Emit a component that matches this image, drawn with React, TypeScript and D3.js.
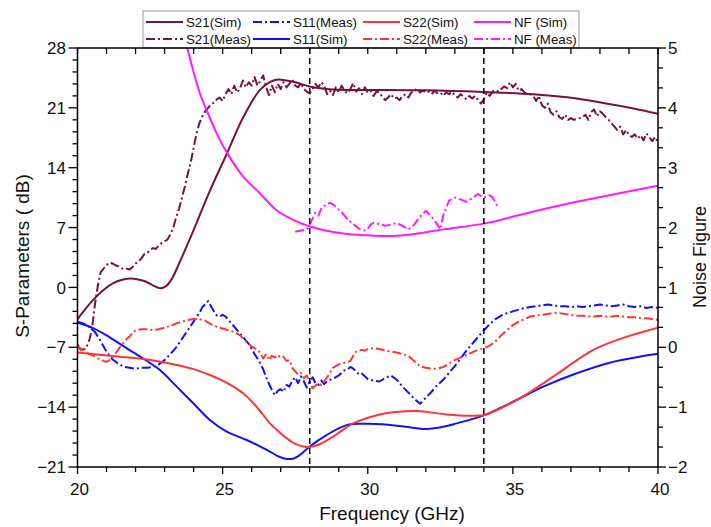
import React from "react";
import * as d3 from "d3";

// ---------- DATA ----------
const s21Sim: [number, number][] = [[20,-3.7],[20.5,-1.6],[20.8,-0.6],[21.2,0.45],[21.8,1.05],[22.3,0.75],[22.6,0.25],[22.85,-0.1],[23.05,0.15],[23.25,1.0],[23.5,2.8],[24.0,6.7],[24.56,11.3],[25.14,15.6],[25.71,19.9],[26.29,23.1],[26.75,24.2],[27.0,24.3],[27.5,24.0],[28.0,23.5],[28.8,23.15],[30.0,23.1],[32.0,23.05],[34.0,22.85],[35.7,22.6],[37.2,22.1],[38.3,21.45],[39.2,20.9],[40,20.3]];

const s21Meas: [number, number][] = [[20.0,-6.9],[20.15,-7.3],[20.3,-7.1],[20.42,-6.0],[20.5,-4.8],[20.6,-2.0],[20.7,0.2],[20.8,1.8],[20.9,2.2],[21.0,2.6],[21.1,2.9],[21.2,2.8],[21.3,2.6],[21.4,2.5],[21.5,2.3],[21.6,2.1],[21.7,2.2],[21.8,2.1],[21.9,2.4],[22.0,2.8],[22.1,3.0],[22.2,3.4],[22.3,3.9],[22.4,4.0],[22.5,4.4],[22.6,4.6],[22.7,4.5],[22.8,4.9],[22.9,5.2],[23.0,5.4],[23.1,5.6],[23.2,6.2],[23.3,7.0],[23.4,8.2],[23.5,9.2],[23.6,10.5],[23.7,11.8],[23.8,13.3],[23.9,14.6],[24.0,16.3],[24.1,18.0],[24.2,19.2],[24.3,20.0],[24.4,20.6],[24.5,21.0],[24.6,21.4],[24.7,21.6],[24.8,22.0],[24.9,22.2],[25.0,21.8],[25.1,22.6],[25.2,23.2],[25.3,22.6],[25.4,23.6],[25.5,22.8],[25.6,23.3],[25.7,24.2],[25.8,23.4],[25.9,24.0],[26.0,23.6],[26.1,24.6],[26.2,23.6],[26.3,24.2],[26.4,24.8],[26.5,23.4],[26.6,22.5],[26.7,23.6],[26.8,22.8],[26.9,23.8],[27.0,23.2],[27.1,24.0],[27.2,23.4],[27.3,23.8],[27.4,24.3],[27.5,23.6],[27.6,23.4],[27.7,23.9],[27.8,23.2],[27.9,22.9],[28.0,22.7],[28.1,23.2],[28.2,23.8],[28.3,23.4],[28.4,24.0],[28.5,23.6],[28.6,22.6],[28.7,23.0],[28.8,22.5],[28.9,23.4],[29.0,22.8],[29.1,23.6],[29.2,23.0],[29.3,22.7],[29.4,23.2],[29.5,23.9],[29.6,22.9],[29.7,23.3],[29.8,22.6],[29.9,23.4],[30.0,22.8],[30.1,23.0],[30.2,22.4],[30.3,22.9],[30.4,22.8],[30.5,22.3],[30.6,21.9],[30.7,22.2],[30.8,22.6],[30.9,22.1],[31.0,22.2],[31.1,21.9],[31.2,22.4],[31.3,22.6],[31.4,22.2],[31.5,22.8],[31.6,22.9],[31.7,23.3],[31.8,22.8],[31.9,23.0],[32.0,22.8],[32.1,22.9],[32.2,22.6],[32.3,23.0],[32.4,22.7],[32.5,22.8],[32.6,22.4],[32.7,22.8],[32.8,22.6],[32.9,22.9],[33.0,22.5],[33.1,22.2],[33.2,22.6],[33.3,22.3],[33.4,22.0],[33.5,22.4],[33.6,22.1],[33.7,22.4],[33.8,21.9],[33.9,21.5],[34.0,22.0],[34.1,22.8],[34.2,22.4],[34.3,22.9],[34.4,23.1],[34.5,22.9],[34.6,23.2],[34.7,23.5],[34.8,23.3],[34.9,24.0],[35.0,23.4],[35.1,23.8],[35.2,23.0],[35.3,23.2],[35.4,22.8],[35.5,22.6],[35.6,22.6],[35.7,22.4],[35.8,21.8],[35.9,22.4],[36.0,21.3],[36.1,21.0],[36.2,21.5],[36.3,20.5],[36.4,20.2],[36.5,20.6],[36.6,19.9],[36.7,19.7],[36.8,20.2],[36.9,19.6],[37.0,19.8],[37.1,19.6],[37.2,19.7],[37.3,19.8],[37.4,19.9],[37.5,20.2],[37.6,19.6],[37.7,20.5],[37.8,20.8],[37.9,20.0],[38.0,20.6],[38.1,20.3],[38.2,19.9],[38.3,19.6],[38.4,19.2],[38.5,18.8],[38.6,18.4],[38.7,18.8],[38.8,17.9],[38.9,18.4],[39.0,17.8],[39.1,17.6],[39.2,17.9],[39.3,17.4],[39.4,17.8],[39.5,17.2],[39.6,18.0],[39.7,17.6],[39.8,17.1],[39.9,17.6],[40.0,17.0]];

const s11Sim: [number, number][] = [[20,-4.1],[20.5,-4.7],[21.0,-5.6],[21.69,-7.1],[22.3,-8.4],[22.84,-9.66],[23.42,-11.6],[23.99,-13.55],[24.56,-15.5],[25.14,-16.87],[25.83,-17.84],[26.52,-19.0],[26.95,-19.8],[27.21,-20.06],[27.45,-20.0],[27.66,-19.6],[28.0,-18.6],[28.58,-17.26],[29.27,-16.1],[29.9,-15.95],[30.5,-16.0],[31.3,-16.3],[32.03,-16.55],[32.6,-16.3],[33.06,-15.9],[34.04,-14.9],[34.9,-13.55],[36.05,-11.6],[37.2,-10.04],[38.34,-8.8],[40,-7.75]];

const s11Meas: [number, number][] = [[20.0,-4.0],[20.2,-4.2],[20.4,-4.6],[20.6,-5.2],[20.8,-6.3],[21.0,-7.5],[21.2,-8.4],[21.4,-8.9],[21.6,-9.3],[21.8,-9.4],[22.0,-9.5],[22.2,-9.4],[22.4,-9.4],[22.6,-9.3],[22.8,-9.0],[23.0,-8.5],[23.2,-7.8],[23.4,-7.0],[23.6,-6.0],[23.8,-5.0],[24.0,-4.0],[24.1,-3.4],[24.2,-3.0],[24.3,-2.3],[24.4,-2.0],[24.5,-1.6],[24.6,-2.2],[24.7,-2.8],[24.8,-3.3],[24.9,-3.4],[25.0,-3.2],[25.1,-3.4],[25.2,-3.8],[25.3,-4.2],[25.4,-4.6],[25.5,-5.0],[25.6,-5.4],[25.7,-5.8],[25.8,-6.2],[25.9,-6.6],[26.0,-7.2],[26.1,-7.8],[26.2,-8.3],[26.3,-8.9],[26.4,-9.6],[26.5,-10.5],[26.6,-11.3],[26.7,-12.0],[26.8,-12.6],[26.9,-12.1],[27.0,-11.9],[27.1,-12.2],[27.2,-11.4],[27.3,-11.6],[27.4,-10.9],[27.5,-10.5],[27.6,-11.2],[27.7,-10.4],[27.8,-11.0],[27.9,-11.7],[28.0,-11.0],[28.1,-10.5],[28.2,-11.2],[28.3,-11.4],[28.4,-10.9],[28.5,-11.3],[28.6,-11.0],[28.7,-10.8],[28.8,-10.7],[28.9,-10.5],[29.0,-10.3],[29.1,-10.0],[29.2,-9.7],[29.3,-9.6],[29.4,-9.3],[29.5,-9.5],[29.6,-9.8],[29.7,-10.2],[29.8,-10.1],[29.9,-10.4],[30.0,-10.7],[30.2,-10.9],[30.4,-11.0],[30.6,-10.6],[30.8,-10.3],[31.0,-10.8],[31.2,-11.6],[31.4,-12.3],[31.6,-13.0],[31.8,-13.6],[32.0,-12.9],[32.2,-12.2],[32.4,-11.4],[32.6,-10.8],[32.8,-10.0],[33.0,-9.2],[33.2,-8.3],[33.4,-7.4],[33.6,-6.6],[33.8,-5.8],[34.0,-5.0],[34.2,-4.3],[34.4,-3.7],[34.6,-3.3],[34.8,-3.0],[35.0,-2.8],[35.2,-2.6],[35.4,-2.4],[35.6,-2.3],[35.8,-2.2],[36.0,-2.1],[36.2,-2.0],[36.4,-2.1],[36.6,-2.2],[36.8,-2.2],[37.0,-2.3],[37.2,-2.2],[37.4,-2.3],[37.6,-2.2],[37.8,-2.1],[38.0,-2.0],[38.2,-2.1],[38.4,-2.2],[38.6,-2.1],[38.8,-2.0],[39.0,-2.2],[39.2,-2.3],[39.4,-2.2],[39.6,-2.4],[39.8,-2.3],[40.0,-2.4]];

const s22Sim: [number, number][] = [[20,-7.6],[21.12,-8.0],[22.27,-8.37],[23.42,-9.07],[24.0,-9.55],[24.56,-10.24],[25.0,-10.9],[25.37,-11.6],[25.75,-12.5],[26.06,-13.55],[26.35,-14.7],[26.63,-15.9],[26.95,-16.9],[27.21,-17.65],[27.5,-18.3],[27.78,-18.6],[28.0,-18.65],[28.3,-18.4],[28.81,-17.45],[29.5,-15.9],[30.42,-14.85],[30.88,-14.6],[31.68,-14.45],[32.72,-14.85],[33.5,-15.0],[34.04,-14.9],[34.6,-14.1],[35.24,-12.97],[36.39,-10.44],[37.77,-7.3],[38.8,-5.9],[40,-4.7]];

const s22Meas: [number, number][] = [[20.0,-6.6],[20.1,-7.3],[20.2,-7.0],[20.3,-7.5],[20.4,-7.8],[20.5,-7.9],[20.6,-8.1],[20.7,-8.3],[20.8,-8.4],[20.9,-8.6],[21.0,-8.7],[21.1,-8.5],[21.2,-8.2],[21.3,-7.8],[21.4,-7.3],[21.5,-6.8],[21.6,-6.4],[21.7,-6.0],[21.8,-5.7],[21.9,-5.3],[22.0,-5.0],[22.2,-4.9],[22.4,-4.9],[22.6,-5.0],[22.8,-4.9],[23.0,-4.7],[23.2,-4.5],[23.4,-4.2],[23.6,-4.0],[23.8,-3.8],[24.0,-3.7],[24.2,-3.7],[24.4,-3.9],[24.6,-4.3],[24.8,-4.6],[25.0,-4.8],[25.2,-5.0],[25.4,-5.2],[25.6,-5.6],[25.8,-6.3],[26.0,-6.9],[26.2,-7.3],[26.3,-7.7],[26.4,-8.3],[26.5,-7.8],[26.6,-8.5],[26.7,-8.0],[26.8,-8.2],[26.9,-7.9],[27.0,-8.2],[27.1,-8.1],[27.2,-8.6],[27.3,-8.5],[27.4,-9.4],[27.5,-9.8],[27.6,-10.2],[27.7,-10.0],[27.8,-10.6],[27.9,-10.3],[28.0,-11.0],[28.1,-11.8],[28.2,-11.5],[28.3,-11.2],[28.4,-11.4],[28.5,-11.0],[28.6,-10.5],[28.7,-10.0],[28.8,-9.4],[28.9,-9.2],[29.0,-9.0],[29.1,-8.9],[29.2,-8.8],[29.3,-8.7],[29.4,-8.6],[29.5,-8.0],[29.6,-7.5],[29.7,-7.4],[29.8,-7.3],[29.9,-7.4],[30.0,-7.2],[30.2,-7.1],[30.4,-7.2],[30.6,-7.4],[30.8,-7.5],[31.0,-7.6],[31.2,-7.8],[31.4,-8.0],[31.6,-8.6],[31.8,-9.2],[32.0,-9.4],[32.2,-9.5],[32.4,-9.5],[32.6,-9.3],[32.8,-8.9],[33.0,-8.5],[33.2,-8.2],[33.4,-7.9],[33.6,-7.6],[33.8,-7.3],[34.0,-7.1],[34.2,-6.8],[34.4,-6.3],[34.6,-5.6],[34.8,-5.0],[35.0,-4.4],[35.2,-4.0],[35.4,-3.7],[35.6,-3.4],[35.8,-3.3],[36.0,-3.2],[36.2,-3.1],[36.4,-3.0],[36.6,-3.0],[36.8,-3.1],[37.0,-3.2],[37.2,-3.3],[37.4,-3.3],[37.6,-3.4],[37.8,-3.4],[38.0,-3.3],[38.2,-3.4],[38.4,-3.4],[38.6,-3.3],[38.8,-3.4],[39.0,-3.5],[39.2,-3.5],[39.4,-3.6],[39.6,-3.6],[39.8,-3.7],[40.0,-3.8]];

const nfSim: [number, number][] = [[23.55,5.45],[23.78,5.0],[24.0,4.6],[24.22,4.24],[24.45,3.96],[24.8,3.57],[25.2,3.21],[25.71,2.85],[26.29,2.57],[26.86,2.29],[27.43,2.13],[28.07,2.01],[29.16,1.9],[30.0,1.87],[30.88,1.86],[31.7,1.9],[32.6,1.97],[34.04,2.07],[35.47,2.24],[37.2,2.43],[40,2.7]];

const nfMeas: [number, number][] = [[27.5,1.93],[27.7,1.95],[27.9,1.97],[28.0,2.05],[28.1,2.15],[28.2,2.25],[28.3,2.2],[28.4,2.32],[28.5,2.36],[28.6,2.4],[28.7,2.41],[28.8,2.39],[28.9,2.35],[29.0,2.3],[29.1,2.26],[29.2,2.2],[29.3,2.14],[29.4,2.1],[29.5,2.06],[29.6,2.02],[29.7,1.98],[29.8,1.96],[29.9,1.95],[30.0,1.98],[30.1,2.05],[30.2,2.08],[30.4,2.06],[30.6,2.03],[30.8,2.05],[31.0,2.08],[31.2,2.03],[31.4,1.97],[31.6,2.05],[31.8,2.18],[32.0,2.28],[32.2,2.18],[32.4,2.05],[32.5,1.97],[32.6,2.2],[32.8,2.45],[33.0,2.5],[33.2,2.47],[33.4,2.43],[33.6,2.49],[33.8,2.56],[34.0,2.5],[34.2,2.54],[34.3,2.5],[34.4,2.42],[34.5,2.32]];

const markerFreqs = [28, 34];
const leftTicks = [-21, -14, -7, 0, 7, 14, 21, 28];
const rightTicks = [-2, -1, 0, 1, 2, 3, 4, 5];
const bottomTicks = [20, 25, 30, 35, 40];

// ---------- STYLE ----------
const WINE = "#7a1040";
const BLUE = "#1010ff";
const RED = "#ff3535";
const MAG = "#ff1aff";
const DASHDOT = "9,3,2,3";
const FONT = "'Liberation Sans', Arial, sans-serif";

const L = 77.5, R = 658, T = 48, B = 467;

export default function App() {
  const x = d3.scaleLinear().domain([20, 40]).range([L, R]);
  const yL = d3.scaleLinear().domain([-21, 28]).range([B, T]);
  const yR = d3.scaleLinear().domain([-2, 5]).range([B, T]);

  const smooth = (y: d3.ScaleLinear<number, number>) =>
    d3.line<[number, number]>().x(d => x(d[0])).y(d => y(d[1])).curve(d3.curveCatmullRom.alpha(0.5));
  const rough = (y: d3.ScaleLinear<number, number>) =>
    d3.line<[number, number]>().x(d => x(d[0])).y(d => y(d[1]));

  const series = [
    { name: "S21(Sim)", d: smooth(yL)(s21Sim), color: WINE, dash: undefined },
    { name: "S21(Meas)", d: rough(yL)(s21Meas), color: WINE, dash: DASHDOT },
    { name: "S11(Meas)", d: rough(yL)(s11Meas), color: BLUE, dash: DASHDOT },
    { name: "S11(Sim)", d: smooth(yL)(s11Sim), color: BLUE, dash: undefined },
    { name: "S22(Sim)", d: smooth(yL)(s22Sim), color: RED, dash: undefined },
    { name: "S22(Meas)", d: rough(yL)(s22Meas), color: RED, dash: DASHDOT },
    { name: "NF (Sim)", d: smooth(yR)(nfSim), color: MAG, dash: undefined },
    { name: "NF (Meas)", d: rough(yR)(nfMeas), color: MAG, dash: DASHDOT },
  ];

  const legendCols = [146, 253, 363, 474];
  const legendRows = [22, 39];
  const legendOrder = [
    ["S21(Sim)", "S11(Meas)", "S22(Sim)", "NF (Sim)"],
    ["S21(Meas)", "S11(Sim)", "S22(Meas)", "NF (Meas)"],
  ];

  const xMinor = d3.range(20, 40.001, 1);
  const leftMinor = d3.range(0, 36).map(k => -21 + k * 1.4);
  const rightMinor = d3.range(0, 22).map(k => -2 + k / 3);
  const fmt = (v: number) => (v < 0 ? "\u2212" + Math.abs(v) : String(v));

  return (
    <svg width={711} height={527} style={{ position: "absolute", left: 0, top: 0, background: "#fff" }} fontFamily={FONT}>
      <defs>
        <clipPath id="plot">
          <rect x={L} y={T} width={R - L} height={B - T} />
        </clipPath>
      </defs>

      {/* legend */}
      <rect x={143} y={11} width={436} height={37} fill="#fff" stroke="#9a9a9a" strokeWidth={1} />
      {legendOrder.map((row, ri) =>
        row.map((nm, ci) => {
          const s = series.find(q => q.name === nm)!;
          const lx = legendCols[ci];
          const ly = legendRows[ri];
          return (
            <g key={nm}>
              <line x1={lx} x2={lx + 37} y1={ly} y2={ly} stroke={s.color} strokeWidth={2} strokeDasharray={s.dash} />
              <text x={lx + 40} y={ly} dy="0.35em" fontSize={13.3} fill="#111">{nm}</text>
            </g>
          );
        })
      )}

      {/* curves */}
      <g clipPath="url(#plot)" fill="none">
        {series.map(s => (
          <path key={s.name} d={s.d || ""} stroke={s.color} strokeWidth={2} strokeDasharray={s.dash} strokeLinejoin="round" />
        ))}
        {markerFreqs.map(f => (
          <line key={f} x1={x(f)} x2={x(f)} y1={T} y2={B} stroke="#000" strokeWidth={1.5} strokeDasharray="6,4" />
        ))}
      </g>

      {/* frame */}
      <rect x={L} y={T} width={R - L} height={B - T} fill="none" stroke="#000" strokeWidth={1.5} />

      {/* bottom & top ticks */}
      {xMinor.map(v => {
        const major = bottomTicks.includes(Math.round(v));
        return (
          <g key={"xt" + v}>
            <line x1={x(v)} x2={x(v)} y1={B} y2={B + (major ? 7 : 5)} stroke="#000" strokeWidth={1.3} />
            <line x1={x(v)} x2={x(v)} y1={T} y2={T + 6} stroke="#000" strokeWidth={1.3} />
          </g>
        );
      })}
      {bottomTicks.map(v => (
        <text key={"xl" + v} x={x(v) + 2} y={495} textAnchor="middle" fontSize={17} fill="#111">{v}</text>
      ))}

      {/* left ticks */}
      {leftMinor.map((v, i) => (
        <line key={"lm" + i} x1={L} x2={L - (i % 5 === 0 ? 9 : 5)} y1={yL(v)} y2={yL(v)} stroke="#000" strokeWidth={1.3} />
      ))}
      {leftTicks.map(v => (
        <text key={"ll" + v} x={66} y={yL(v)} dy="0.36em" textAnchor="end" fontSize={17} fill="#111">{fmt(v)}</text>
      ))}

      {/* right ticks */}
      {rightMinor.map((v, i) => (
        <line key={"rm" + i} x1={R} x2={R + (i % 3 === 0 ? 8 : 5)} y1={yR(v)} y2={yR(v)} stroke="#000" strokeWidth={1.3} />
      ))}
      {rightTicks.map(v => (
        <text key={"rl" + v} x={668} y={yR(v)} dy="0.36em" textAnchor="start" fontSize={17} fill="#111">{fmt(v)}</text>
      ))}

      {/* axis titles */}
      <text x={392} y={520} textAnchor="middle" fontSize={19} fill="#111">Frequency (GHz)</text>
      <text transform={`translate(29,256) rotate(-90)`} textAnchor="middle" fontSize={19} fill="#111">S-Parameters ( dB)</text>
      <text transform={`translate(706,257) rotate(-90)`} textAnchor="middle" fontSize={18} fill="#111">Noise Figure</text>
    </svg>
  );
}
